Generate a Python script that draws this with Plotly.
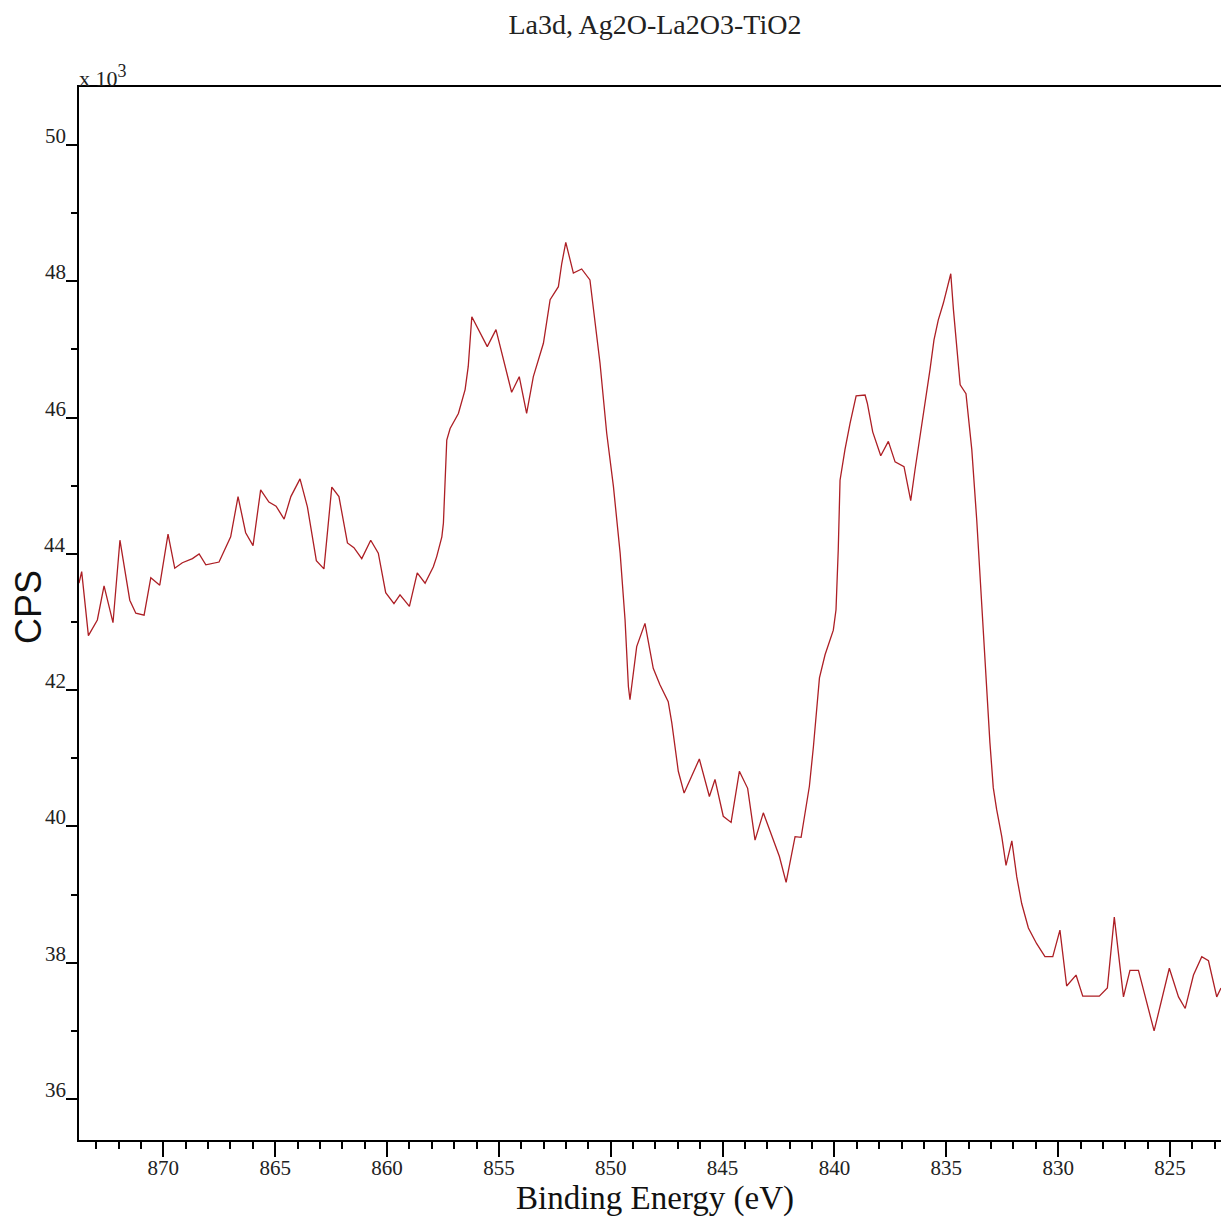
import plotly.graph_objects as go

# Binding energy (eV) and intensity (CPS x 10^3)
energy = [
    873.77, 873.65, 873.35, 872.95, 872.65, 872.25, 871.94, 871.50, 871.23, 870.86,
    870.56, 870.16, 869.79, 869.49, 869.15, 868.70, 868.40, 868.10, 867.51, 867.14,
    866.99, 866.66, 866.32, 865.99, 865.65, 865.28, 864.96, 864.60, 864.30, 863.89,
    863.56, 863.16, 862.82, 862.47, 862.15, 861.77, 861.48, 861.13, 860.73, 860.39,
    860.06, 859.69, 859.42, 859.00, 858.65, 858.30, 857.93, 857.78, 857.55, 857.48,
    857.33, 857.18, 856.81, 856.51, 856.37, 856.21, 855.84, 855.52, 855.13, 854.80,
    854.43, 854.09, 853.76, 853.46, 853.16, 853.01, 852.71, 852.34, 852.19, 852.01,
    851.67, 851.30, 850.93, 850.78, 850.48, 850.18, 849.88, 849.58, 849.36, 849.21,
    849.14, 848.84, 848.47, 848.10, 847.80, 847.43, 847.27, 846.98, 846.72, 846.04,
    845.59, 845.34, 844.97, 844.62, 844.25, 843.88, 843.55, 843.18, 842.80, 842.46,
    842.16, 841.76, 841.49, 841.12, 840.94, 840.79, 840.67, 840.42, 840.05, 839.93,
    839.83, 839.75, 839.53, 839.30, 839.03, 838.63, 838.53, 838.29, 837.93, 837.59,
    837.29, 836.89, 836.77, 836.59, 836.40, 836.17, 835.95, 835.73, 835.55, 835.36,
    835.13, 834.80, 834.68, 834.53, 834.38, 834.12, 833.86, 833.64, 833.34, 833.05,
    832.90, 832.75, 832.52, 832.33, 832.07, 831.85, 831.63, 831.33, 830.96, 830.59,
    830.24, 829.92, 829.62, 829.20, 828.90, 828.16, 827.80, 827.49, 827.08, 826.79,
    826.41, 825.71, 825.03, 824.62, 824.32, 823.95, 823.58, 823.28, 822.91, 822.72,
]
cps_k = [
    43.57, 43.74, 42.80, 43.03, 43.53, 42.99, 44.20, 43.32, 43.13, 43.10,
    43.65, 43.54, 44.29, 43.79, 43.87, 43.93, 44.00, 43.84, 43.88, 44.16,
    44.25, 44.84, 44.31, 44.12, 44.94, 44.76, 44.70, 44.51, 44.84, 45.10,
    44.69, 43.90, 43.78, 44.98, 44.84, 44.16, 44.09, 43.93, 44.20, 44.01,
    43.43, 43.27, 43.40, 43.23, 43.72, 43.57, 43.81, 43.96, 44.25, 44.45,
    45.67, 45.84, 46.06, 46.41, 46.75, 47.48, 47.24, 47.04, 47.29, 46.85,
    46.37, 46.60, 46.06, 46.60, 46.94, 47.09, 47.73, 47.92, 48.26, 48.57,
    48.12, 48.18, 48.02, 47.63, 46.80, 45.77, 44.99, 44.01, 43.03, 42.05,
    41.86, 42.64, 42.98, 42.32, 42.08, 41.83, 41.52, 40.81, 40.49, 40.99,
    40.44, 40.69, 40.15, 40.06, 40.81, 40.56, 39.80, 40.20, 39.85, 39.56,
    39.18, 39.85, 39.84, 40.59, 41.17, 41.74, 42.18, 42.52, 42.88, 43.18,
    44.06, 45.08, 45.53, 45.92, 46.32, 46.33, 46.21, 45.79, 45.44, 45.65,
    45.35, 45.28, 45.08, 44.78, 45.23, 45.72, 46.21, 46.70, 47.14, 47.43,
    47.68, 48.11, 47.58, 46.99, 46.48, 46.35, 45.53, 44.50, 42.80, 41.23,
    40.57, 40.25, 39.85, 39.43, 39.79, 39.26, 38.87, 38.51, 38.28, 38.09,
    38.09, 38.48, 37.66, 37.82, 37.51, 37.51, 37.63, 38.67, 37.50, 37.89,
    37.89, 37.00, 37.92, 37.50, 37.33, 37.82, 38.09, 38.03, 37.50, 37.63,
]

x_ticks = [870, 865, 860, 855, 850, 845, 840, 835, 830, 825]
y_ticks = [36, 38, 40, 42, 44, 46, 48, 50]

title_text = "La3d, Ag2O-La2O3-TiO2"
x_title = "Binding Energy (eV)"
y_title = "CPS"

SERIF = "Liberation Serif, Times New Roman, serif"
SANS = "Liberation Sans, Arial, sans-serif"

fig = go.Figure()
fig.add_trace(go.Scatter(
    x=energy, y=cps_k, mode="lines",
    line=dict(color="#ad1f25", width=1.3),
    hoverinfo="skip", showlegend=False,
))

W, H = 1221, 1219
fig.update_layout(
    width=W, height=H,
    margin=dict(l=79, r=0, t=87, b=79),
    paper_bgcolor="white", plot_bgcolor="white",
    title=dict(text=title_text, x=(655 - 79) / (W - 79), xref="paper", xanchor="center",
               y=1 - 24 / H, yref="container", yanchor="middle",
               font=dict(family=SERIF, size=28, color="#222")),
    xaxis=dict(
        range=[873.77, 822.72], showgrid=False, zeroline=False,
        showline=True, linecolor="black", linewidth=1.5, mirror=True,
        ticks="outside", ticklen=15, tickwidth=1.5, tickcolor="black",
        tickvals=x_ticks, ticktext=[str(v) for v in x_ticks],
        ticklabelstandoff=-7,
        tickfont=dict(family=SERIF, size=21, color="#222"),
        minor=dict(dtick=1, tick0=870, ticks="outside", ticklen=7,
                   tickwidth=1.5, tickcolor="black", showgrid=False),
    ),
    yaxis=dict(
        range=[35.40, 50.85], showgrid=False, zeroline=False,
        showline=True, linecolor="black", linewidth=1.5,
        ticks="outside", ticklen=11, tickwidth=1.5, tickcolor="black",
        tickvals=y_ticks, showticklabels=False,
        minor=dict(dtick=1, tick0=35, ticks="outside", ticklen=6,
                   tickwidth=1.5, tickcolor="black", showgrid=False),
    ),
)

ann = []
for v in y_ticks:
    ann.append(dict(x=0, xref="paper", y=v, yref="y", text=str(v),
                    showarrow=False, xanchor="right", yanchor="bottom",
                    xshift=-11, yshift=-5,
                    font=dict(family=SERIF, size=21, color="#222")))
ann.append(dict(x=0, xref="paper", y=1, yref="paper",
                text="x 10<sup><span style='font-size:18px'>3</span></sup>", showarrow=False,
                xanchor="left", yanchor="bottom", yshift=-6, xshift=-2,
                font=dict(family=SERIF, size=22, color="#222")))
ann.append(dict(x=(655 - 79) / (W - 79), xref="paper", y=-(1198 - 1140) / (H - 87 - 79),
                yref="paper", text=x_title, showarrow=False,
                xanchor="center", yanchor="middle",
                font=dict(family=SERIF, size=33, color="#111")))
ann.append(dict(x=-(79 - 28) / (W - 79), xref="paper", y=1 - (607 - 87) / (H - 87 - 79),
                yref="paper", text=y_title, showarrow=False, textangle=-90,
                xanchor="center", yanchor="middle",
                font=dict(family=SANS, size=36, color="#111")))
fig.update_layout(annotations=ann)

fig.write_html("out.html", config={"displayModeBar": False})
